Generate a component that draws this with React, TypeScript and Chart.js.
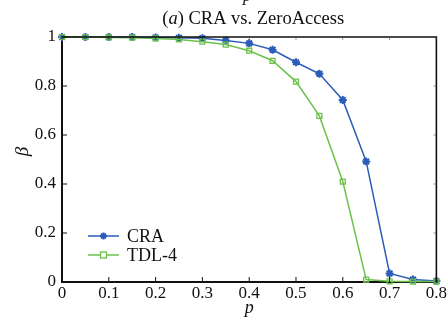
import React, { useEffect, useRef } from "react";
import { Chart, registerables } from "chart.js";

Chart.register(...registerables);

const pValues = [0, 0.05, 0.1, 0.15, 0.2, 0.25, 0.3, 0.35, 0.4, 0.45, 0.5, 0.55, 0.6, 0.65, 0.7, 0.75, 0.8];
const craValues = [1, 1, 1, 1, 0.998, 0.997, 0.995, 0.986, 0.974, 0.948, 0.897, 0.85, 0.743, 0.492, 0.035, 0.01, 0.004];
const tdlValues = [1, 1, 0.998, 0.997, 0.994, 0.99, 0.981, 0.969, 0.944, 0.903, 0.818, 0.678, 0.41, 0.01, 0.003, 0.002, 0.002];
const seriesNames = ["CRA", "TDL-4"];
const titleText = "CRA vs. ZeroAccess";
const titlePrefix = "a";
const xLabel = "p";
const yLabel = "β";

const BLUE = "#2b5cb8";
const GREEN = "#6cc24a";
const SERIF = "'Liberation Serif', 'DejaVu Serif', serif";

const decorPlugin = {
  id: "decor",
  afterDraw(chart: any) {
    const { ctx, chartArea, scales } = chart;
    const xs = scales.x;
    const ys = scales.y;
    ctx.save();
    // top & right frame
    ctx.strokeStyle = "#111";
    ctx.lineWidth = 1.6;
    ctx.beginPath();
    ctx.moveTo(chartArea.left, chartArea.top);
    ctx.lineTo(chartArea.right, chartArea.top);
    ctx.lineTo(chartArea.right, chartArea.bottom);
    ctx.stroke();
    // inward ticks
    ctx.lineWidth = 1;
    ctx.strokeStyle = "#111";
    xs.ticks.forEach((t: any) => {
      const x = xs.getPixelForValue(t.value);
      ctx.beginPath();
      ctx.moveTo(x, chartArea.bottom);
      ctx.lineTo(x, chartArea.bottom - 5);
      ctx.stroke();
    });
    ys.ticks.forEach((t: any) => {
      const y = ys.getPixelForValue(t.value);
      ctx.beginPath();
      ctx.moveTo(chartArea.left, y);
      ctx.lineTo(chartArea.left + 5, y);
      ctx.stroke();
    });
    ctx.strokeStyle = "rgba(60,60,60,0.5)";
    xs.ticks.forEach((t: any) => {
      const x = xs.getPixelForValue(t.value);
      ctx.beginPath();
      ctx.moveTo(x, chartArea.top);
      ctx.lineTo(x, chartArea.top + 3);
      ctx.stroke();
    });
    ys.ticks.forEach((t: any) => {
      const y = ys.getPixelForValue(t.value);
      ctx.beginPath();
      ctx.moveTo(chartArea.right, y);
      ctx.lineTo(chartArea.right - 3, y);
      ctx.stroke();
    });

    const cx = (chartArea.left + chartArea.right) / 2;
    ctx.fillStyle = "#111";
    ctx.textBaseline = "alphabetic";
    // cut-off p from previous panel
    ctx.font = `italic 17px ${SERIF}`;
    ctx.textAlign = "center";
    ctx.fillText(xLabel, cx - 2, 1);
    // title
    const fs = 18.5;
    const pre1 = "(";
    const pre3 = ") " + titleText;
    ctx.font = `${fs}px ${SERIF}`;
    const w1 = ctx.measureText(pre1).width;
    const w3 = ctx.measureText(pre3).width;
    ctx.font = `italic ${fs}px ${SERIF}`;
    const w2 = ctx.measureText(titlePrefix).width;
    const total = w1 + w2 + w3;
    let tx = cx + 4 - total / 2;
    ctx.textAlign = "left";
    ctx.font = `${fs}px ${SERIF}`;
    ctx.fillText(pre1, tx, 24);
    tx += w1;
    ctx.font = `italic ${fs}px ${SERIF}`;
    ctx.fillText(titlePrefix, tx, 24);
    tx += w2;
    ctx.font = `${fs}px ${SERIF}`;
    ctx.fillText(pre3, tx, 24);
    // x label
    ctx.font = `italic 18px ${SERIF}`;
    ctx.textAlign = "center";
    ctx.fillText(xLabel, cx, 313);
    // y label
    ctx.save();
    ctx.translate(28, (chartArea.top + chartArea.bottom) / 2 - 8);
    ctx.rotate(-Math.PI / 2);
    ctx.font = `italic 19px ${SERIF}`;
    ctx.textAlign = "center";
    ctx.fillText(yLabel, 0, 0);
    ctx.restore();

    // legend
    const lx0 = 88;
    const lx1 = 119;
    const rows = [
      { y: 236, color: BLUE, name: seriesNames[0], style: "star" },
      { y: 255, color: GREEN, name: seriesNames[1], style: "rect" },
    ];
    rows.forEach((r) => {
      ctx.strokeStyle = r.color;
      ctx.lineWidth = 1.5;
      ctx.beginPath();
      ctx.moveTo(lx0, r.y);
      ctx.lineTo(lx1, r.y);
      ctx.stroke();
      const mx = (lx0 + lx1) / 2;
      if (r.style === "star") {
        ctx.lineWidth = 2;
        const rad = 3.5;
        for (let k = 0; k < 4; k++) {
          const a = (k * Math.PI) / 4;
          ctx.beginPath();
          ctx.moveTo(mx - rad * Math.cos(a), r.y - rad * Math.sin(a));
          ctx.lineTo(mx + rad * Math.cos(a), r.y + rad * Math.sin(a));
          ctx.stroke();
        }
      } else {
        ctx.lineWidth = 1.3;
        ctx.fillStyle = "#fff";
        ctx.fillRect(mx - 3, r.y - 3, 6, 6);
        ctx.strokeRect(mx - 3, r.y - 3, 6, 6);
      }
      ctx.fillStyle = "#111";
      ctx.font = `18px ${SERIF}`;
      ctx.textAlign = "left";
      ctx.fillText(r.name, 127, r.y + 6);
    });
    ctx.restore();
  },
};

export default function App() {
  const ref = useRef<HTMLCanvasElement | null>(null);
  useEffect(() => {
    if (!ref.current) return;
    const chart = new Chart(ref.current, {
      type: "line",
      data: {
        datasets: [
          {
            label: seriesNames[0],
            data: pValues.map((p, i) => ({ x: p, y: craValues[i] })),
            borderColor: BLUE,
            backgroundColor: BLUE,
            borderWidth: 1.5,
            pointStyle: "star",
            pointRadius: 4,
            pointBorderWidth: 2,
            pointBorderColor: BLUE,
            order: 1,
            clip: false as any,
          },
          {
            label: seriesNames[1],
            data: pValues.map((p, i) => ({ x: p, y: tdlValues[i] })),
            borderColor: GREEN,
            backgroundColor: "rgba(255,255,255,0)",
            borderWidth: 1.5,
            pointStyle: "rect",
            pointRadius: 3.5,
            pointBorderWidth: 1.3,
            pointBorderColor: GREEN,
            order: 0,
            clip: false as any,
          },
        ],
      },
      options: {
        responsive: false,
        animation: false,
        layout: { padding: { top: 37, right: 9, left: 0, bottom: 0 }, autoPadding: false } as any,
        plugins: {
          legend: { display: false },
          title: { display: false },
          tooltip: { enabled: false },
        },
        scales: {
          x: {
            type: "linear",
            min: 0,
            max: 0.8,
            grid: { display: false, drawTicks: false },
            border: { display: true, color: "#111", width: 2 },
            ticks: {
              stepSize: 0.1,
              padding: 1,
              color: "#111",
              font: { family: SERIF, size: 17 },
              maxRotation: 0,
              callback: (v: any) => (Math.abs(v) < 1e-9 ? "0" : Number(v).toFixed(1)),
            },
            afterFit: (s: any) => {
              s.height = 38;
            },
          },
          y: {
            type: "linear",
            min: 0,
            max: 1,
            grid: { display: false, drawTicks: false },
            border: { display: true, color: "#111", width: 2 },
            ticks: {
              stepSize: 0.2,
              padding: 6,
              color: "#111",
              font: { family: SERIF, size: 17 },
              callback: (v: any) => {
                const n = Number(v);
                if (Math.abs(n) < 1e-9) return "0";
                if (Math.abs(n - 1) < 1e-9) return "1";
                return n.toFixed(1);
              },
            },
            afterFit: (s: any) => {
              s.width = 62;
            },
          },
        },
      },
      plugins: [decorPlugin],
    });
    return () => chart.destroy();
  }, []);
  return (
    <div style={{ position: "fixed", left: 0, top: 0, width: 448, height: 320, background: "#fff" }}>
      <canvas ref={ref} width={448} height={320} style={{ width: 448, height: 320, display: "block" }} />
    </div>
  );
}
